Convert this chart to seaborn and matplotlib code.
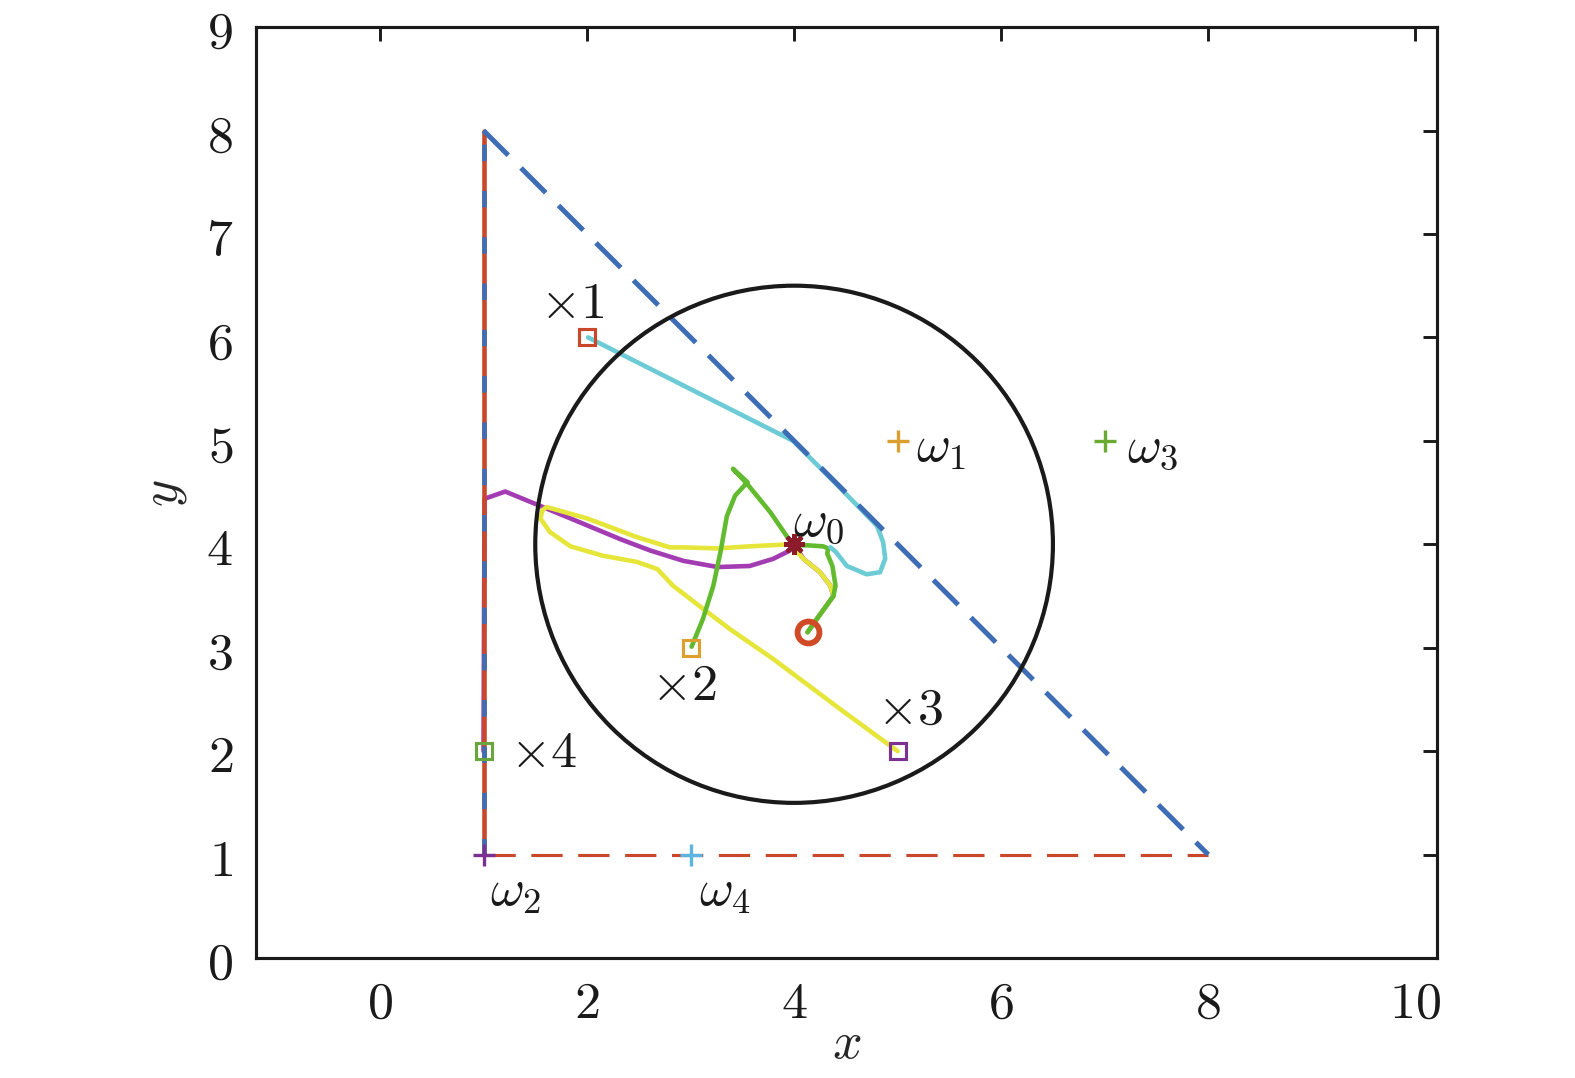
import numpy as np
import pandas as pd
import matplotlib
matplotlib.use('Agg')
import matplotlib.pyplot as plt
import seaborn as sns

# ---- data ----
circle_center = (4.0, 4.0)
circle_radius = 2.5

# feasible region edges
diag_x = [1.0, 8.0]
diag_y = [8.0, 1.0]
vert_x = [1.0, 1.0]
vert_y = [1.0, 8.0]
horiz_x = [1.0, 8.0]
horiz_y = [1.0, 1.0]

# trajectories
cyan_x = [2.01, 3.0, 3.99, 4.4, 4.80, 4.86, 4.88, 4.83, 4.70, 4.51, 4.40, 4.35]
cyan_y = [6.00, 5.50, 5.00, 4.59, 4.18, 4.02, 3.86, 3.73, 3.71, 3.79, 3.93, 3.97]

green_x = [3.01, 3.12, 3.22, 3.29, 3.35, 3.43, 3.55, 3.41, 3.55, 3.77, 3.99, 4.13, 4.28, 4.33,
           4.32, 4.37, 4.40, 4.38, 4.25, 4.13]
green_y = [3.01, 3.28, 3.60, 3.93, 4.27, 4.47, 4.60, 4.73, 4.58, 4.31, 3.99, 3.99, 3.98, 3.96,
           3.91, 3.79, 3.60, 3.50, 3.32, 3.15]

yellow_x = [5.0, 4.44, 3.80, 3.38, 3.09, 2.83, 2.68, 2.48, 2.15, 1.84, 1.64, 1.55, 1.57, 1.61,
            2.0, 2.48, 2.80, 2.93, 3.26, 3.57, 3.96, 4.09, 4.25, 4.35, 4.38, 4.25, 4.13]
yellow_y = [2.0, 2.41, 2.89, 3.18, 3.40, 3.60, 3.76, 3.83, 3.89, 3.98, 4.12, 4.25, 4.33, 4.36,
            4.25, 4.07, 3.97, 3.97, 3.96, 3.98, 4.00, 3.86, 3.73, 3.60, 3.50, 3.32, 3.15]

purple_x = [1.0, 1.01, 1.21, 1.55, 1.84, 2.32, 2.61, 2.93, 3.26, 3.57, 3.80, 3.96, 4.0, 4.09,
            4.25, 4.35, 4.38, 4.25, 4.13]
purple_y = [2.0, 4.44, 4.51, 4.37, 4.25, 4.05, 3.94, 3.84, 3.78, 3.79, 3.86, 3.94, 4.0, 3.86,
            3.73, 3.60, 3.50, 3.32, 3.15]

# start points (squares)
start_x = [2.0, 3.0, 5.0, 1.0]
start_y = [6.0, 3.0, 2.0, 2.0]
start_colors = ['#C9482B', '#DDA030', '#7B3192', '#6AA640']
start_labels = [r'$\times 1$', r'$\times 2$', r'$\times 3$', r'$\times 4$']
start_label_pos = [(1.55, 6.34), (2.62, 2.64), (4.8, 2.41), (1.26, 2.0)]

# reference points (plus)
ref_x = [5.0, 1.0, 7.0, 3.0]
ref_y = [5.0, 1.0, 5.0, 1.0]
ref_colors = ['#D9A030', '#7B3192', '#6AAA30', '#5BB5E0']
ref_labels = [r'$\omega_1$', r'$\omega_2$', r'$\omega_3$', r'$\omega_4$']
ref_label_pos = [(5.18, 4.95), (1.06, 0.66), (7.22, 4.95), (3.08, 0.66)]

omega0 = (4.0, 4.0)
final_pt = (4.13, 3.15)

x_ticks = [0, 2, 4, 6, 8, 10]
y_ticks = [0, 1, 2, 3, 4, 5, 6, 7, 8, 9]

# ---- style ----
sns.set_theme(style='white')
plt.rcParams['mathtext.fontset'] = 'cm'
plt.rcParams['font.family'] = ['DejaVu Serif']

fig = plt.figure(figsize=(10.5, 7.193), dpi=150)
ax = fig.add_axes([0.1625, 0.1112, 0.7499, 0.8628])

line_kw = dict(sort=False, estimator=None, lw=2.2, ax=ax, zorder=2)
traj = [(purple_x, purple_y, '#A33CB2'), (yellow_x, yellow_y, '#E6E63A'),
        (green_x, green_y, '#62BB2E'), (cyan_x, cyan_y, '#6CCBD4')]
for xs, ys, c in traj:
    sns.lineplot(x=xs, y=ys, color=c, **line_kw)
for ln in ax.lines:
    ln.set_solid_joinstyle('round')
    ln.set_solid_capstyle('round')

# region boundaries
ax.plot(vert_x, vert_y, color='#C9482B', lw=2.2, zorder=3)
ax.plot(vert_x, vert_y, color='#3D6DB5', lw=2.2, dashes=(3.6, 6.5), zorder=3)
ax.plot(horiz_x, horiz_y, color='#C9482B', lw=1.5, dashes=(10, 5), zorder=3)
ax.plot(diag_x, diag_y, color='#3D6DB5', lw=2.4, dashes=(7, 3.6), zorder=3)

# circle
ax.add_patch(plt.Circle(circle_center, circle_radius, fill=False, ec='#1a1a1a', lw=2.0, zorder=3))

# markers
for x, y, c in zip(start_x, start_y, start_colors):
    ax.plot(x, y, marker='s', ms=7.5, mfc='none', mec=c, mew=1.5, zorder=5)
for x, y, c in zip(ref_x, ref_y, ref_colors):
    ax.plot(x, y, marker='+', ms=11, mec=c, mew=1.6, zorder=5)
ax.plot(*omega0, marker=(8, 2, 0), ms=10, mec='#8B1A2A', mew=2.0, zorder=6)
ax.plot(*final_pt, marker='o', ms=10.5, mfc='none', mec='#D04A25', mew=2.8, zorder=6)

# labels
for (x, y), s in zip(start_label_pos, start_labels):
    ax.text(x, y, s, fontsize=25, ha='left', va='center', color='#1a1a1a')
for (x, y), s in zip(ref_label_pos, ref_labels):
    ax.text(x, y, s, fontsize=25, ha='left', va='center', color='#1a1a1a')
ax.text(3.99, 4.24, r'$\omega_0$', fontsize=25, ha='left', va='center', color='#1a1a1a')

# axes
ax.set_xlim(-1.198, 10.21)
ax.set_ylim(0, 9)
ax.set_xticks(x_ticks)
ax.set_xticklabels([f'${v}$' for v in x_ticks])
ax.set_yticks(y_ticks)
ax.set_yticklabels([f'${v}$' for v in y_ticks])
ax.tick_params(direction='in', length=6.5, width=1.4, colors='#1a1a1a', labelsize=25,
               top=True, right=True)
ax.tick_params(axis='x', pad=9)
ax.tick_params(axis='y', pad=11)
for sp in ax.spines.values():
    sp.set_linewidth(1.5)
    sp.set_color('#1a1a1a')
ax.set_xlabel(r'$x$', fontsize=25, labelpad=-5)
ax.set_ylabel(r'$y$', fontsize=25, labelpad=8)

fig.savefig('out.png', dpi=150, facecolor='white')
